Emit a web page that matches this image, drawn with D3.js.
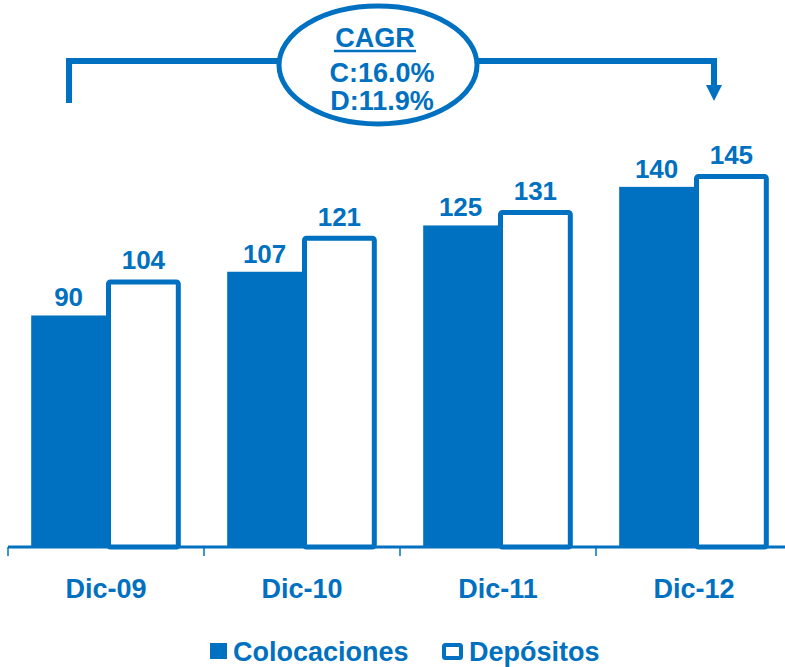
<!DOCTYPE html>
<html>
<head>
<meta charset="utf-8">
<script src="https://d3js.org/d3.v7.min.js"></script>
<style>
  body { margin: 0; background: #fff; }
  text { font-family: "Liberation Sans", Arial, sans-serif; font-weight: bold; fill: #0070C0; }
</style>
</head>
<body>
<div id="chart"></div>
<script>
// chart values
const categories = ['Dic-09', 'Dic-10', 'Dic-11', 'Dic-12'];
const series = ['Colocaciones', 'Depósitos'];
const colocaciones = [90, 107, 125, 140];
const depositos = [104, 121, 131, 145];
const cagrTitle = 'CAGR';
const cagrLines = ['C:16.0%', 'D:11.9%'];

var width = 785, height = 667;
var blue = '#0070C0';
var base = 547;

var svg = d3.select('#chart').append('svg')
  .attr('width', width)
  .attr('height', height);

var x = d3.scaleBand().domain(categories).range([8, 792]);
var xs = d3.scaleBand().domain(series).range([0, x.bandwidth()]).paddingOuter(0.31);
var y = d3.scaleLinear().domain([0, 145]).range([base, 174]);

var rows = categories.map(function(c, i) {
  return { cat: c, col: colocaciones[i], dep: depositos[i] };
});

// Colocaciones bars (filled)
svg.selectAll('rect.col')
  .data(rows)
  .enter().append('rect')
    .attr('class', 'col')
    .attr('x', d => x(d.cat) + xs('Colocaciones'))
    .attr('y', d => y(d.col))
    .attr('width', xs.bandwidth())
    .attr('height', d => base - y(d.col))
    .attr('fill', blue);

// Depósitos bars (outlined)
svg.selectAll('rect.dep')
  .data(rows)
  .enter().append('rect')
    .attr('class', 'dep')
    .attr('x', d => x(d.cat) + xs('Depósitos') + 2.5)
    .attr('y', d => y(d.dep) + 2.5)
    .attr('width', xs.bandwidth() - 5)
    .attr('height', d => base - y(d.dep) - 2.5)
    .attr('rx', 2)
    .attr('fill', '#fff')
    .attr('stroke', blue)
    .attr('stroke-width', 5);

// value labels
svg.selectAll('text.vcol')
  .data(rows)
  .enter().append('text')
    .attr('x', d => x(d.cat) + xs('Colocaciones') + xs.bandwidth() / 2)
    .attr('y', d => y(d.col) - 9)
    .attr('text-anchor', 'middle')
    .attr('font-size', 26)
    .text(d => d.col);

svg.selectAll('text.vdep')
  .data(rows)
  .enter().append('text')
    .attr('x', d => x(d.cat) + xs('Depósitos') + xs.bandwidth() / 2)
    .attr('y', d => y(d.dep) - 10)
    .attr('text-anchor', 'middle')
    .attr('font-size', 26)
    .text(d => d.dep);

// axis line + ticks at band edges
svg.append('line')
  .attr('x1', 8).attr('x2', width)
  .attr('y1', base).attr('y2', base)
  .attr('stroke', blue).attr('stroke-width', 3);

svg.selectAll('line.tick')
  .data(categories)
  .enter().append('line')
    .attr('x1', d => x(d)).attr('x2', d => x(d))
    .attr('y1', base).attr('y2', base + 9)
    .attr('stroke', blue).attr('stroke-width', 1.5);

svg.selectAll('text.cat')
  .data(categories)
  .enter().append('text')
    .attr('x', d => x(d) + x.bandwidth() / 2)
    .attr('y', 598)
    .attr('text-anchor', 'middle')
    .attr('font-size', 27)
    .text(d => d);

// CAGR bracket
svg.append('path')
  .attr('d', 'M69,103 V61 H714 V88')
  .attr('fill', 'none')
  .attr('stroke', blue)
  .attr('stroke-width', 6);

svg.append('path')
  .attr('d', 'M706,85 L722,85 L714,101 Z')
  .attr('fill', blue);

svg.append('ellipse')
  .attr('cx', 378).attr('cy', 65)
  .attr('rx', 99).attr('ry', 59)
  .attr('fill', '#fff')
  .attr('stroke', blue)
  .attr('stroke-width', 5);

svg.append('text')
  .attr('x', 375).attr('y', 47)
  .attr('text-anchor', 'middle')
  .attr('font-size', 27)
  .text(cagrTitle);

svg.append('line')
  .attr('x1', 334).attr('x2', 416)
  .attr('y1', 51).attr('y2', 51)
  .attr('stroke', blue).attr('stroke-width', 2.5);

svg.selectAll('text.cagr')
  .data(cagrLines)
  .enter().append('text')
    .attr('x', 382)
    .attr('y', (d, i) => 82 + i * 28)
    .attr('text-anchor', 'middle')
    .attr('font-size', 27)
    .text(d => d);

// legend
var legend = svg.append('g');
legend.append('rect')
  .attr('x', 210).attr('y', 643)
  .attr('width', 17).attr('height', 16)
  .attr('fill', blue);
legend.append('text')
  .attr('x', 233).attr('y', 661)
  .attr('font-size', 27)
  .text(series[0]);
legend.append('rect')
  .attr('x', 444).attr('y', 645)
  .attr('width', 17).attr('height', 13)
  .attr('rx', 1.5)
  .attr('fill', '#fff')
  .attr('stroke', blue)
  .attr('stroke-width', 4);
legend.append('text')
  .attr('x', 469).attr('y', 661)
  .attr('font-size', 27)
  .text(series[1]);
</script>
</body>
</html>
